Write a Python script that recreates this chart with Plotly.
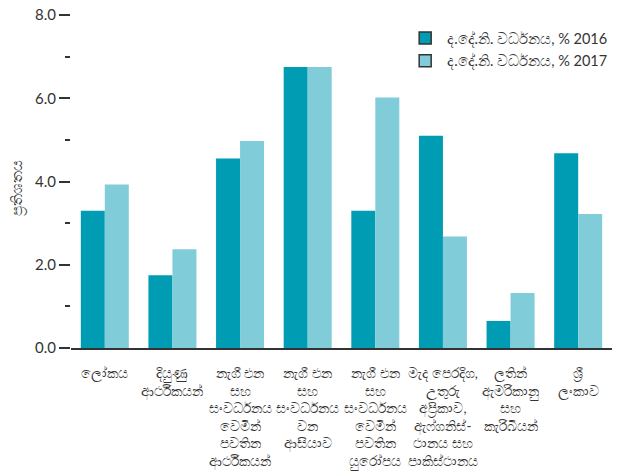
import plotly.graph_objects as go

categories = [
    "ලෝකය",
    "දියුණු<br>ආර්ථිකයන්",
    "නැගී එන<br>සහ<br>සංවර්ධනය<br>වෙමින්<br>පවතින<br>ආර්ථිකයන්",
    "නැගී එන<br>සහ<br>සංවර්ධනය<br>වන<br>ආසියාව",
    "නැගී එන<br>සහ<br>සංවර්ධනය<br>වෙමින්<br>පවතින<br>යුරෝපය",
    "මැද පෙරදිග,<br>උතුරු<br>අප්‍රිකාව,<br>ඇෆ්ගනිස්-<br>ථානය සහ<br>පාකිස්ථානය",
    "ලතින්<br>ඇමරිකානු<br>සහ<br>කැරිබියන්",
    "ශ්‍රී<br>ලංකාව",
]
growth_2016 = [3.3, 1.75, 4.55, 6.75, 3.3, 5.1, 0.65, 4.68]
growth_2017 = [3.93, 2.37, 4.97, 6.75, 6.02, 2.68, 1.32, 3.22]
series_names = ["ද.දේ.නි. වර්ධනය, % 2016", "ද.දේ.නි. වර්ධනය, % 2017"]
y_title = "ප්‍රතිශතය"
y_tickvals = [0, 2, 4, 6, 8]
y_ticktext = ["0.0", "2.0", "4.0", "6.0", "8.0"]

c16 = "#009cb4"
c17 = "#80ccd9"
ink = "#333333"
font_family = "Lato, 'Noto Sans', 'DejaVu Sans', sans-serif"

fig = go.Figure()
fig.add_trace(go.Bar(x=categories, y=growth_2016, marker=dict(color=c16, line=dict(width=0)),
                     showlegend=False, name=series_names[0]))
fig.add_trace(go.Bar(x=categories, y=growth_2017, marker=dict(color=c17, line=dict(width=0)),
                     showlegend=False, name=series_names[1]))
# legend-only entries (with dark outline) on a hidden axis pair
for i, (nm, col) in enumerate(zip(series_names, [c16, c17])):
    fig.add_trace(go.Bar(x=[None], y=[None], xaxis="x2", yaxis="y2", name=nm,
                         legendgroup="g%d" % i,
                         marker=dict(color=col, line=dict(color=ink, width=1.5))))

fig.add_annotation(
    text=y_title, textangle=-90, xref="paper", yref="paper",
    x=-0.1, y=0.48, xanchor="center", yanchor="middle", showarrow=False,
    font=dict(size=14.5, color=ink),
)

fig.update_layout(
    width=619, height=474,
    margin=dict(l=71, r=7, t=15, b=126, autoexpand=False),
    paper_bgcolor="white", plot_bgcolor="white",
    barmode="group", bargap=0.29, bargroupgap=0,
    font=dict(family=font_family, color=ink, size=14),
    xaxis=dict(
        type="category", showgrid=False, zeroline=False, automargin=False,
        showline=True, linecolor=ink, linewidth=2,
        ticks="", ticklabelstandoff=12, tickangle=0,
        tickfont=dict(size=13.5, color=ink),
    ),
    yaxis=dict(
        range=[0, 8], showgrid=False, zeroline=False, showline=False, automargin=False,
        tickvals=y_tickvals, ticktext=y_ticktext,
        ticks="outside", ticklen=11, tickwidth=2, tickcolor=ink,
        tickfont=dict(size=15, color=ink),
        minor=dict(tickvals=[1, 3, 5, 7], ticks="outside", ticklen=5, tickwidth=1.5, tickcolor=ink),
    ),
    xaxis2=dict(visible=False, overlaying="x", domain=[0, 1]),
    yaxis2=dict(visible=False, overlaying="y"),
    legend=dict(
        x=0.614, y=0.979, xanchor="left", yanchor="top",
        bgcolor="rgba(0,0,0,0)", font=dict(size=14.5, color=ink),
        tracegroupgap=1, itemwidth=34,
    ),
)

fig.write_html("out.html", post_script="document.body.style.margin='0';",
               config={"displayModeBar": False})
